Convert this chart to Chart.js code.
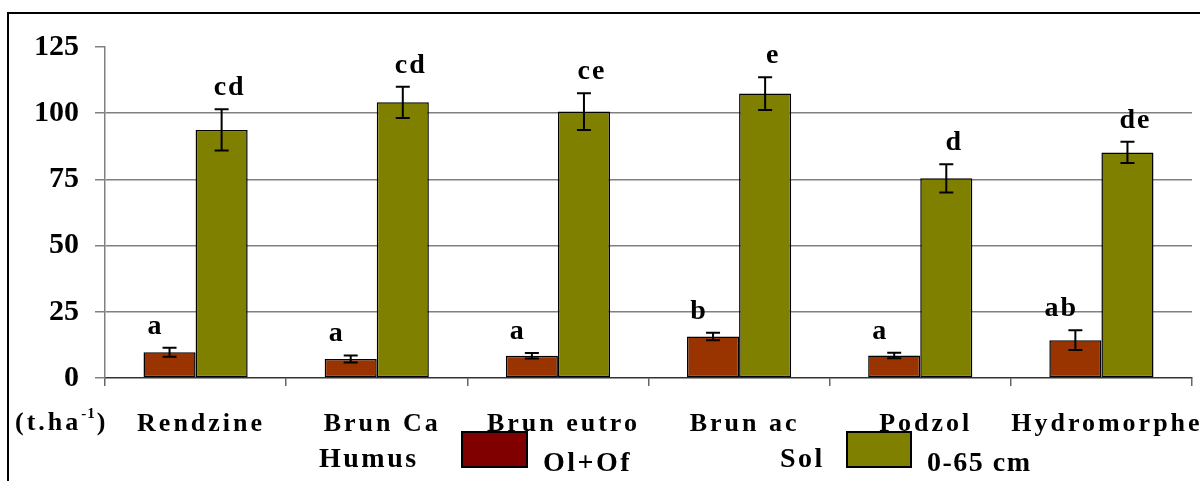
<!DOCTYPE html>
<html><head><meta charset="utf-8">
<script src="https://cdn.jsdelivr.net/npm/chart.js@4.4.0/dist/chart.umd.min.js"></script>
<style>html,body{margin:0;padding:0;background:#fff}#wrap{width:1200px;height:481px}</style>
</head><body><div id="wrap"><canvas id="c" width="1200" height="481"></canvas></div>
<script>
const categories = ['Rendzine','Brun Ca','Brun eutro','Brun ac','Podzol','Hydromorphe'];
const humusValues = [9.7, 7.2, 8.4, 15.7, 8.5, 14.3];
const humusErrors = [1.7, 1.3, 1.0, 1.4, 1.0, 3.7];
const humusLetters = ['a','a','a','b','a','ab'];
const solValues = [93.7, 104.1, 100.6, 107.4, 75.4, 85.2];
const solErrors = [7.8, 5.9, 6.9, 6.2, 5.3, 4.0];
const solLetters = ['cd','cd','ce','e','d','de'];
const yTicks = [0, 25, 50, 75, 100, 125];
const legendHumus = ['Humus', 'Ol+Of'];
const legendSol = ['Sol', '0-65 cm'];
const unitLabel = ['(t.ha', '-1', ')'];

const FONT = '"Liberation Serif","Times New Roman",serif';
const errors = [humusErrors, solErrors];
const letters = [humusLetters, solLetters];

const overlay = {
  id: 'overlay',
  beforeDraw(chart) {
    const ctx = chart.ctx;
    ctx.save();
    ctx.strokeStyle = '#000';
    ctx.lineWidth = 2;
    ctx.beginPath();
    ctx.moveTo(8, 481); ctx.lineTo(8, 13); ctx.lineTo(1200, 13);
    ctx.stroke();
    ctx.restore();
  },
  afterDatasetsDraw(chart) {
    const ctx = chart.ctx, y = chart.scales.y;
    ctx.save();
    [0, 1].forEach(d => {
      const meta = chart.getDatasetMeta(d);
      const vals = chart.data.datasets[d].data;
      meta.data.forEach((el, i) => {
        const v = vals[i], e = errors[d][i];
        const yt = y.getPixelForValue(v + e), yb = y.getPixelForValue(v - e);
        ctx.strokeStyle = '#000'; ctx.lineWidth = 2;
        ctx.beginPath();
        ctx.moveTo(el.x, yt); ctx.lineTo(el.x, yb);
        ctx.moveTo(el.x - 7, yt); ctx.lineTo(el.x + 7, yt);
        ctx.moveTo(el.x - 7, yb); ctx.lineTo(el.x + 7, yb);
        ctx.stroke();
        ctx.fillStyle = '#000';
        ctx.font = 'bold 28px ' + FONT;
        ctx.letterSpacing = '2px';
        ctx.textAlign = 'center';
        ctx.textBaseline = 'alphabetic';
        const dx = d === 0 ? -14 : 8;
        ctx.fillText(letters[d][i], el.x + dx, yt - 14);
      });
    });
    ctx.restore();
  },
  afterDraw(chart) {
    const ctx = chart.ctx, x = chart.scales.x;
    ctx.save();
    ctx.fillStyle = '#000';
    ctx.textBaseline = 'alphabetic';
    ctx.textAlign = 'left';
    // category labels
    ctx.font = 'bold 26px ' + FONT;
    ctx.letterSpacing = '3px';
    categories.forEach((c, i) => {
      const cx = x.getPixelForValue(i);
      const w = ctx.measureText(c).width - 3;
      ctx.fillText(c, cx - w / 2 + 4, 431);
    });
    // unit label
    let ux = 15;
    ctx.fillText(unitLabel[0], ux, 430);
    ux += ctx.measureText(unitLabel[0]).width;
    ctx.font = 'bold 15px ' + FONT;
    ctx.letterSpacing = '1px';
    ctx.fillText(unitLabel[1], ux, 418);
    ux += ctx.measureText(unitLabel[1]).width + 1;
    ctx.font = 'bold 26px ' + FONT;
    ctx.letterSpacing = '3px';
    ctx.fillText(unitLabel[2], ux, 430);
    // legend
    const dsets = chart.data.datasets;
    ctx.lineWidth = 2; ctx.strokeStyle = '#000';
    ctx.fillStyle = '#800000';
    ctx.fillRect(462, 432, 65, 35); ctx.strokeRect(462, 432, 65, 35);
    ctx.fillStyle = dsets[1].backgroundColor;
    ctx.fillRect(847, 432, 64, 35); ctx.strokeRect(847, 432, 64, 35);
    ctx.fillStyle = '#000';
    ctx.font = 'bold 28px ' + FONT;
    ctx.letterSpacing = '2.5px';
    ctx.fillText(legendHumus[0], 319, 467);
    ctx.fillText(legendHumus[1], 543, 471);
    ctx.fillText(legendSol[0], 780, 467);
    ctx.letterSpacing = '1.5px';
    ctx.fillText(legendSol[1], 927, 471);
    ctx.restore();
  }
};

new Chart(document.getElementById('c').getContext('2d'), {
  type: 'bar',
  data: {
    labels: categories,
    datasets: [
      { label: legendHumus.join(' '), data: humusValues, backgroundColor: '#993300', borderColor: '#000', borderWidth: 1.5, borderSkipped: false, categoryPercentage: 0.575, barPercentage: 1 },
      { label: legendSol.join(' '), data: solValues, backgroundColor: '#808000', borderColor: '#000', borderWidth: 1.5, borderSkipped: false, categoryPercentage: 0.575, barPercentage: 1 }
    ]
  },
  options: {
    responsive: false,
    animation: false,
    layout: { padding: { top: 47, right: 8, left: 0, bottom: 0 } },
    plugins: { legend: { display: false }, tooltip: { enabled: false } },
    scales: {
      x: {
        ticks: { display: false },
        grid: { drawOnChartArea: false, drawTicks: true, tickLength: 8, color: '#666', offset: true, lineWidth: 1.5 },
        border: { display: true, color: '#333', width: 1.5 },
        afterFit(s) { s.height = 103; }
      },
      y: {
        min: 0, max: 125,
        afterBuildTicks(s) { s.ticks = yTicks.map(v => ({ value: v })); },
        ticks: { font: { family: FONT, size: 30, weight: 'bold' }, color: '#000', padding: 16 },
        grid: {
          color: c => (c.tick && (c.tick.value === 125 || c.tick.value === 0)) ? 'rgba(0,0,0,0)' : '#808080',
          tickColor: '#808080', tickLength: 10, lineWidth: 1.5
        },
        border: { display: true, color: '#808080', width: 1.5 },
        afterFit(s) { s.width = 105; }
      }
    }
  },
  plugins: [overlay]
});
</script>
</body></html>
